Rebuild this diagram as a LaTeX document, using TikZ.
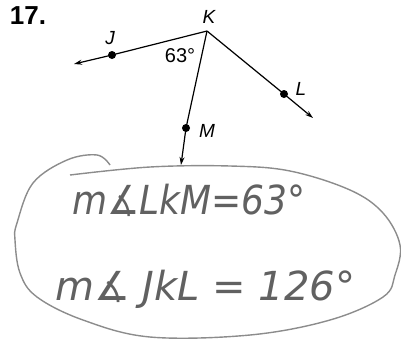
\documentclass[tikz,border=0pt]{standalone}
\usepackage{fontspec}
\setsansfont{Liberation Sans}
\newfontfamily\dvs{DejaVu Sans}
\usetikzlibrary{arrows.meta}
\begin{document}
\begin{tikzpicture}[x=1pt,y=-1pt,
  ray/.style={line width=1.2pt,-{Stealth[length=8pt,width=5pt]}},
  pt/.style={circle,fill=black,inner sep=0pt,minimum size=8pt},
  lbl/.style={font=\sffamily\itshape\fontsize{19}{19}\selectfont},
  hand/.style={font=\dvs\itshape\fontsize{40}{40}\selectfont,text=black!62,anchor=base west,inner sep=0pt}]
\useasboundingbox (0,0) rectangle (401,341);
\node[font=\sffamily\bfseries\fontsize{26}{26}\selectfont] (num) at (28,16) {17.};
\coordinate (K) at (207,31);
\node[pt] (J) at (112,55) {};
\node[pt] (L) at (284,94) {};
\node[pt] (M) at (186,128) {};
\coordinate (Jt) at (74,64);
\coordinate (Lt) at (313,118);
\coordinate (Mt) at (181,165);
\draw[ray] (K) -- (J.center) -- (Jt);
\draw[ray] (K) -- (L.center) -- (Lt);
\draw[ray] (K) -- (M.center) -- (Mt);
\node[lbl] (lK) at (209,17) {K};
\node[lbl] (lJ) at (110,38) {J};
\node[lbl] (lL) at (301,89) {L};
\node[lbl] (lM) at (207,131) {M};
\node[font=\sffamily\fontsize{20}{20}\selectfont] (ang) at (180,56) {63°};
\draw[black!45,line width=1.4pt] plot[smooth,tension=0.6] coordinates {
 (70,175) (150,167) (230,166) (290,171) (350,190) (383,213) (400,245)
 (395,275) (383,297) (330,320) (250,335) (150,337) (83,320) (37,297)
 (20,273) (15,240) (17,223) (33,183) (67,160) (97,155) (110,165)};
\node[hand,xscale=0.9] (t1) at (72,214) {m∡LkM=63°};
\node[hand] (t2) at (55,300) {m∡ JkL = 126°};
\end{tikzpicture}
\end{document}
